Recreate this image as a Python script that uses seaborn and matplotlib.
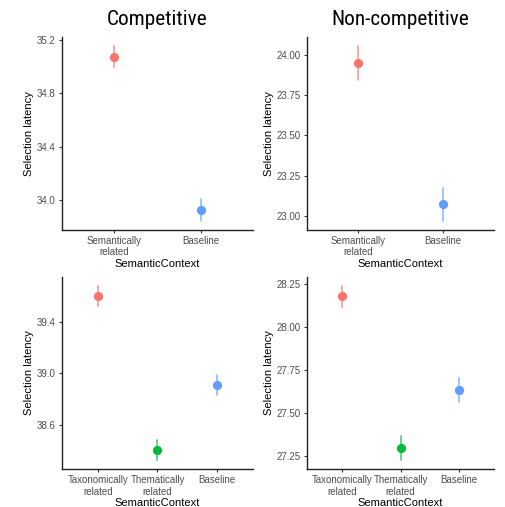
import matplotlib
matplotlib.use("Agg")
import matplotlib.pyplot as plt
from matplotlib import font_manager as fm
import seaborn as sns
import pandas as pd

sns.set_style("ticks")
plt.rcParams['font.family'] = ['Liberation Sans', 'DejaVu Sans']

# ---- data ----
cats_top = ["Semantically\nrelated", "Baseline"]
cats_bot = ["Taxonomically\nrelated", "Thematically\nrelated", "Baseline"]

comp_top_mean = [35.075, 33.925]
comp_top_lo = [35.000, 33.844]
comp_top_hi = [35.157, 34.007]

noncomp_top_mean = [23.948, 23.071]
noncomp_top_lo = [23.845, 22.969]
noncomp_top_hi = [24.058, 23.174]

comp_bot_mean = [39.599, 38.407, 38.912]
comp_bot_lo = [39.521, 38.330, 38.832]
comp_bot_hi = [39.676, 38.484, 38.987]

noncomp_bot_mean = [28.181, 27.299, 27.634]
noncomp_bot_lo = [28.115, 27.227, 27.565]
noncomp_bot_hi = [28.238, 27.370, 27.702]

yticks_comp_top = [34.0, 34.4, 34.8, 35.2]
yticks_noncomp_top = [23.00, 23.25, 23.50, 23.75, 24.00]
yticks_comp_bot = [38.6, 39.0, 39.4]
yticks_noncomp_bot = [27.25, 27.50, 27.75, 28.00, 28.25]

titles = ["Competitive", "Non-competitive"]

colors_top = {"Semantically\nrelated": "#F8766D", "Baseline": "#619CFF"}
colors_bot = {"Taxonomically\nrelated": "#F8766D", "Thematically\nrelated": "#00BA38",
              "Baseline": "#619CFF"}

# find a condensed / narrow font for the titles, if one is installed
cands = []
for f in fm.fontManager.ttflist:
    nm = f.name + " " + f.fname
    if ("Narrow" in nm or "Condensed" in nm or "condensed" in str(f.stretch)) and f.weight in (400, "normal", "regular") \
            and f.style == "normal":
        cands.append(f)
pref = ["Roboto Condensed", "Liberation Sans Narrow", "Open Sans Condensed", "DejaVu Sans Condensed"]
cands.sort(key=lambda f: next((i for i, p in enumerate(pref) if p in f.name or p.replace(" ", "") in f.fname), 99))
if cands:
    title_fp = fm.FontProperties(fname=cands[0].fname, size=15.3)
else:
    title_fp = fm.FontProperties(family="Liberation Sans", size=13)

W, H = 506, 507
fig = plt.figure(figsize=(W / 100, H / 100), dpi=100)


def add_ax(left, right, top, bottom):
    return fig.add_axes([left / W, 1 - bottom / H, (right - left) / W, (bottom - top) / H])


def panel(ax, cats, mean, lo, hi, yticks, fmt, pal):
    # rows: lo, mean, hi per category -> median = mean, 100% interval = [lo, hi]
    rows = []
    for c, m, l, h in zip(cats, mean, lo, hi):
        for v in (l, m, h):
            rows.append({"SemanticContext": c, "Selection latency": v})
    df = pd.DataFrame(rows)
    sns.pointplot(data=df, x="SemanticContext", y="Selection latency", hue="SemanticContext",
                  order=cats, hue_order=cats, palette=pal, estimator="median",
                  errorbar=("pi", 100), linestyle="none", markersize=4.6,
                  err_kws={"linewidth": 1.3, "alpha": 0.65}, legend=False, ax=ax)
    n = len(cats)
    ax.set_xlim(-0.6, n - 1 + 0.6)
    allv = lo + hi
    r = max(allv) - min(allv)
    ax.set_ylim(min(allv) - 0.05 * r, max(allv) + 0.05 * r)
    ax.set_yticks(yticks)
    ax.set_yticklabels([fmt.format(t) for t in yticks])
    ax.tick_params(axis="both", labelsize=7, labelcolor="#4D4D4D", color="#333333",
                   length=2.5, width=0.8, pad=2)
    for s in ["top", "right"]:
        ax.spines[s].set_visible(False)
    for s in ["left", "bottom"]:
        ax.spines[s].set_linewidth(1.0)
        ax.spines[s].set_color("#222222")
    ax.set_xlabel("SemanticContext", fontsize=8, color="black", labelpad=1)
    ax.set_ylabel("Selection latency", fontsize=8, color="black", labelpad=2)


ax1 = add_ax(62, 253, 37, 229.6)
panel(ax1, cats_top, comp_top_mean, comp_top_lo, comp_top_hi, yticks_comp_top, "{:.1f}", colors_top)
ax2 = add_ax(307, 494, 37, 229.6)
panel(ax2, cats_top, noncomp_top_mean, noncomp_top_lo, noncomp_top_hi, yticks_noncomp_top, "{:.2f}", colors_top)
ax3 = add_ax(62, 253, 277, 469)
panel(ax3, cats_bot, comp_bot_mean, comp_bot_lo, comp_bot_hi, yticks_comp_bot, "{:.1f}", colors_bot)
ax4 = add_ax(307, 494, 277, 469)
panel(ax4, cats_bot, noncomp_bot_mean, noncomp_bot_lo, noncomp_bot_hi, yticks_noncomp_bot, "{:.2f}", colors_bot)

for ax, t in zip([ax1, ax2], titles):
    ax.set_title(t, fontproperties=title_fp, pad=8.6, color="black")

fig.savefig("out.png", dpi=100)
